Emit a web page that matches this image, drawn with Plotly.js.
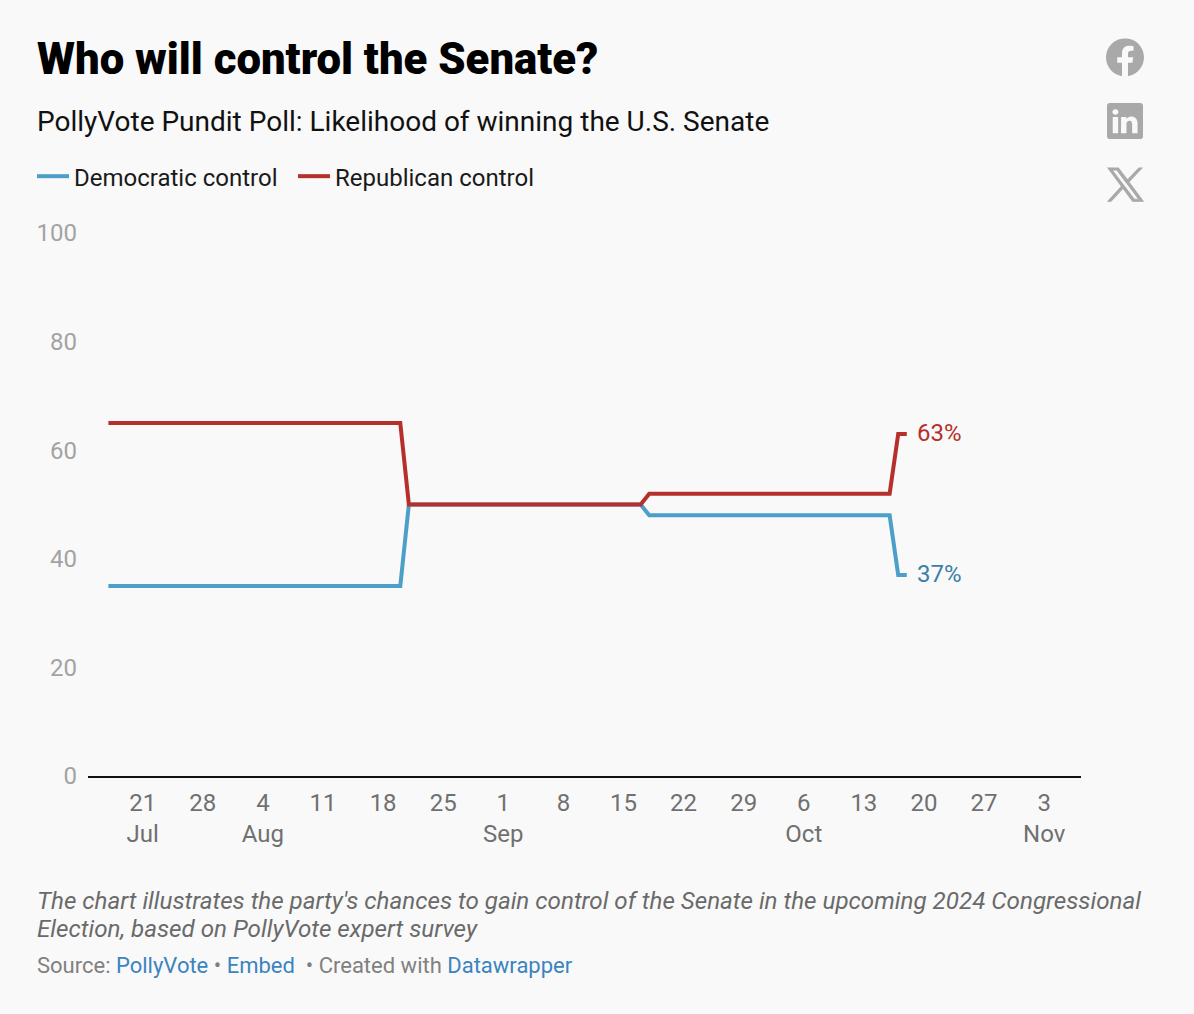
<!DOCTYPE html>
<html>
<head>
<meta charset="utf-8">
<script src="https://cdn.plot.ly/plotly-3.0.1.min.js"></script>
<style>
  html, body { margin: 0; padding: 0; background: #f9f9f9; }
</style>
</head>
<body>
<div id="chart" style="width:1194px;height:1014px;"></div>
<script>
// Data
const dates = ['2024-07-17', '2024-08-20', '2024-08-21', '2024-09-17', '2024-09-18', '2024-10-16', '2024-10-17', '2024-10-18'];
const democratic = [35, 35, 50, 50, 48, 48, 37, 37];
const republican = [65, 65, 50, 50, 52, 52, 63, 63];

const tickDates = ['2024-07-21', '2024-07-28', '2024-08-04', '2024-08-11', '2024-08-18', '2024-08-25', '2024-09-01', '2024-09-08',
    '2024-09-15', '2024-09-22', '2024-09-29', '2024-10-06', '2024-10-13', '2024-10-20', '2024-10-27', '2024-11-03'];
const tickLabels = ['21<br>Jul', '28', '4<br>Aug', '11', '18', '25', '1<br>Sep', '8',
    '15', '22', '29', '6<br>Oct', '13', '20', '27', '3<br>Nov'];
const yTicks = [0, 20, 40, 60, 80, 100];

const FONT = 'Roboto, sans-serif';
const WIDTH = 1194, HEIGHT = 1014;
const BLUE = '#4c9fc8', RED = '#b5302a';

// page pixels to paper coordinates
const margin = { l: 88, r: 113, t: 233, b: 237.5, pad: 0 };
const paperX = px => (px - margin.l) / (WIDTH - margin.l - margin.r);
const paperY = py => (HEIGHT - margin.b - py) / (HEIGHT - margin.t - margin.b);

function pageText(text, x, y, size, color, extra) {
    return Object.assign({
        text, x: paperX(x), y: paperY(y), xref: 'paper', yref: 'paper',
        xanchor: 'left', yanchor: 'middle', align: 'left', showarrow: false,
        font: { family: FONT, size, color }
    }, extra);
}

function endLabel(text, y, color) {
    return {
        text, x: dates[dates.length - 1], y, xref: 'x', yref: 'y', xanchor: 'left', yanchor: 'middle',
        xshift: 8, yshift: 1, showarrow: false, font: { family: FONT, size: 24, color }
    };
}

function icon(svg, x0, y0, x1, y1) {
    return {
        source: 'data:image/svg+xml;utf8,' + encodeURIComponent(svg),
        xref: 'paper', yref: 'paper', x: paperX(x0), y: paperY(y0),
        sizex: paperX(x1) - paperX(x0), sizey: paperY(y0) - paperY(y1),
        xanchor: 'left', yanchor: 'top', sizing: 'stretch', layer: 'above'
    };
}

const facebookSvg = '<svg xmlns="http://www.w3.org/2000/svg" viewBox="0 0 16 16"><path fill="#a9a9a9" d="M16 8.049c0-4.446-3.582-8.05-8-8.05C3.58 0-.002 3.603-.002 8.05c0 4.017 2.926 7.347 6.75 7.951v-5.625h-2.03V8.05H6.75V6.275c0-2.017 1.195-3.131 3.022-3.131.876 0 1.791.157 1.791.157v1.98h-1.009c-.993 0-1.303.621-1.303 1.258v1.51h2.218l-.354 2.326H9.25V16c3.824-.604 6.75-3.934 6.75-7.951z"/></svg>';
const linkedinSvg = '<svg xmlns="http://www.w3.org/2000/svg" viewBox="0 0 16 16"><path fill="#a9a9a9" d="M0 1.146C0 .513.526 0 1.175 0h13.65C15.474 0 16 .513 16 1.146v13.708c0 .633-.526 1.146-1.175 1.146H1.175C.526 16 0 15.487 0 14.854V1.146zm4.943 12.248V6.169H2.542v7.225h2.401zm-1.2-8.212c.837 0 1.358-.554 1.358-1.248-.015-.709-.52-1.248-1.342-1.248-.822 0-1.359.54-1.359 1.248 0 .694.521 1.248 1.327 1.248h.016zm4.908 8.212V9.359c0-.216.016-.432.08-.586.173-.431.568-.878 1.232-.878.869 0 1.216.662 1.216 1.634v3.865h2.401V9.25c0-2.22-1.184-3.252-2.764-3.252-1.274 0-1.845.7-2.165 1.193v.025h-.016a5.54 5.54 0 0 1 .016-.025V6.169h-2.4c.03.678 0 7.225 0 7.225h2.4z"/></svg>';
const xSvg = '<svg xmlns="http://www.w3.org/2000/svg" viewBox="-30 -30 1260 1287"><path fill="#a9a9a9" stroke="#a9a9a9" stroke-width="35" d="M714.163 519.284L1160.89 0H1055.03L667.137 450.887L357.328 0H0L468.492 681.821L0 1226.37H105.866L515.491 750.218L842.672 1226.37H1200L714.137 519.284H714.163ZM569.165 687.828L521.697 619.934L144.011 79.6944H306.615L611.412 515.685L658.88 583.579L1055.08 1150.3H892.476L569.165 687.854V687.828Z"/></svg>';

const traces = [
    { x: dates, y: democratic, name: 'Democratic control', type: 'scatter', mode: 'lines', line: { color: BLUE, width: 4 }, hoverinfo: 'skip' },
    { x: dates, y: republican, name: 'Republican control', type: 'scatter', mode: 'lines', line: { color: RED, width: 4 }, hoverinfo: 'skip' }
];

const layout = {
    width: WIDTH,
    height: HEIGHT,
    margin,
    paper_bgcolor: '#f9f9f9',
    plot_bgcolor: '#f9f9f9',
    font: { family: FONT },
    showlegend: true,
    legend: {
        orientation: 'h',
        x: paperX(32), y: paperY(154), xanchor: 'left', yanchor: 'top',
        bgcolor: 'rgba(0,0,0,0)',
        itemwidth: 32,
        entrywidth: 214,
        entrywidthmode: 'pixels',
        font: { family: FONT, size: 24, color: '#1a1a1a' },
        traceorder: 'normal'
    },
    xaxis: {
        type: 'date',
        range: ['2024-07-14 15:00', '2024-11-07 07:00'],
        tickmode: 'array',
        tickvals: tickDates,
        ticktext: tickLabels,
        ticks: '',
        ticklabelstandoff: 4,
        showgrid: false,
        zeroline: false,
        showline: true,
        linecolor: '#111111',
        linewidth: 2,
        tickangle: 0,
        tickfont: { family: FONT, size: 24, color: '#707070' }
    },
    yaxis: {
        range: [0, 100],
        tickmode: 'array',
        tickvals: yTicks,
        ticks: '',
        ticklabelstandoff: 10,
        showgrid: false,
        zeroline: false,
        tickfont: { family: FONT, size: 24, color: '#a3a3a3' }
    },
    annotations: [
        pageText('Who will control the Senate?', 35, 59, 43.7, '#000000', { font: { family: FONT, size: 43.7, color: '#000000', weight: 900 } }),
        pageText('PollyVote Pundit Poll: Likelihood of winning the U.S. Senate', 35, 121, 28, '#111111'),
        endLabel('63%', 63, RED),
        endLabel('37%', 37, '#3a80a8'),
        pageText('<i>The chart illustrates the party\'s chances to gain control of the Senate in the upcoming 2024 Congressional</i>', 35, 902, 24.2, '#6a6a6a'),
        pageText('<i>Election, based on PollyVote expert survey</i>', 35, 930, 24.2, '#6a6a6a'),
        pageText('Source: <span style="color:#3a84c0">PollyVote</span> • <span style="color:#3a84c0">Embed</span>  • Created with <span style="color:#3a84c0">Datawrapper</span>', 35, 966, 22, '#808080')
    ],
    images: [
        icon(facebookSvg, 1106, 38, 1144, 76),
        icon(linkedinSvg, 1107, 103, 1143, 139),
        icon(xSvg, 1107, 167, 1144, 202)
    ]
};

Plotly.newPlot('chart', traces, layout, { displayModeBar: false, staticPlot: true });
</script>
</body>
</html>
